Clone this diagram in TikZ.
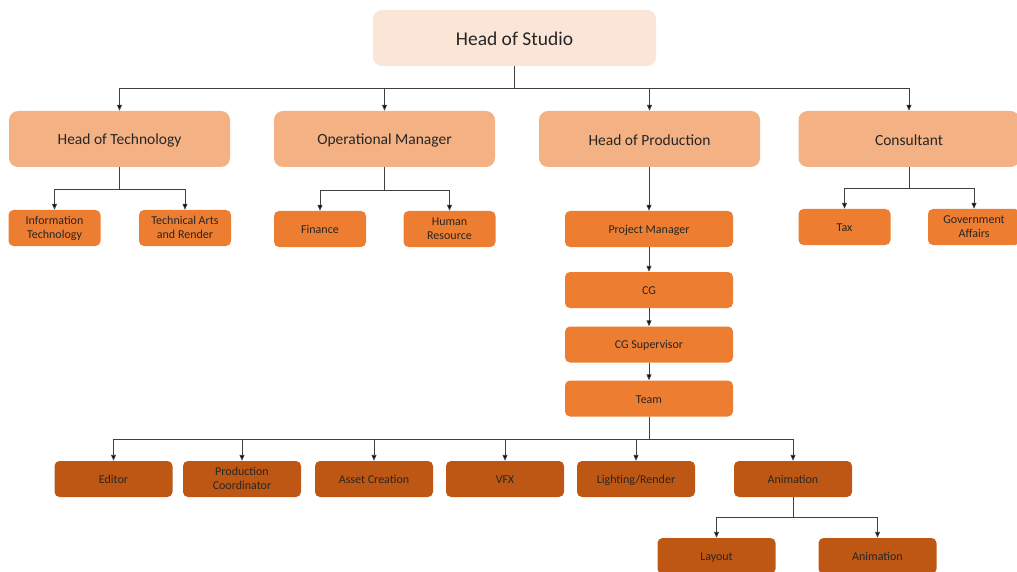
\documentclass[tikz,border=0pt]{standalone}
\usepackage{fontspec}
\setmainfont{Carlito}
\usetikzlibrary{arrows.meta,positioning}
\definecolor{studiopeach}{RGB}{251,229,214}
\definecolor{headorange}{RGB}{244,177,131}
\definecolor{unitorange}{RGB}{237,125,49}
\definecolor{crewrust}{RGB}{190,87,20}
\definecolor{labelink}{RGB}{38,38,38}
\definecolor{linkgrey}{RGB}{64,64,64}
\newcommand{\capstrut}{\rule[-0.1em]{0pt}{1.0em}}

\begin{document}
\begin{tikzpicture}[x=1pt, y=-1pt,
  box/.style={rounded corners=5pt, inner sep=0pt, align=center, text=labelink, font=\fontsize{12}{14}\selectfont,
    execute at begin node=\capstrut, execute at end node=\capstrut},
  studio/.style={box, fill=studiopeach, rounded corners=9pt, minimum width=283pt, minimum height=56pt, font=\fontsize{19.5}{23}\selectfont},
  headbox/.style={box, fill=headorange, rounded corners=9pt, minimum width=221pt, minimum height=56pt, font=\fontsize{15.5}{18}\selectfont},
  unitbox/.style={box, fill=unitorange, minimum width=92pt, minimum height=36pt},
  chainbox/.style={box, fill=unitorange, minimum width=168pt, minimum height=36pt},
  crewbox/.style={box, fill=crewrust, minimum width=118pt, minimum height=36pt},
  link/.style={draw=linkgrey, line width=0.9pt, -{Triangle[length=6pt,width=5pt,fill=black]}}]
\useasboundingbox (0,0) rectangle (1017,572);
% top
\node[studio] (studio) at (514.5,38) {Head of Studio};
% heads
\node[headbox] (tech) at (119.5,139) {Head of Technology};
\node[headbox] (ops) at (384.5,139) {Operational Manager};
\node[headbox] (prod) at (649.5,139) {Head of Production};
\node[headbox] (cons) at (909,139) {Consultant};
% units
\node[unitbox] (it) at (54.5,228) {Information\\Technology};
\node[unitbox] (arts) at (185,228) {Technical Arts\\and Render};
\node[unitbox] (fin) at (320,229) {Finance};
\node[unitbox] (hr) at (449.5,229) {Human\\Resource};
\node[unitbox] (tax) at (844.5,227) {Tax};
\node[unitbox] (gov) at (974,227) {Government\\Affairs};
% production chain
\node[chainbox] (pm) at (649,229) {Project Manager};
\node[chainbox] (cg) at (649,290) {CG};
\node[chainbox] (sup) at (649,344.5) {CG Supervisor};
\node[chainbox] (team) at (649,398.5) {Team};
% crew
\node[crewbox] (edit) at (113.5,479) {Editor};
\node[crewbox] (coord) at (242,479) {Production\\Coordinator};
\node[crewbox] (asset) at (374,479) {Asset Creation};
\node[crewbox] (vfx) at (505,479) {VFX};
\node[crewbox] (light) at (636,479) {Lighting/Render};
\node[crewbox] (anim) at (793,479) {Animation};
\node[crewbox] (layout) at (716.5,556) {Layout};
\node[crewbox] (anim2) at (877.5,556) {Animation};
% links
\foreach \n in {tech,ops,prod,cons}
  \draw[link] (studio.south) -- ++(0,22) -| (\n.north);
\foreach \n in {it,arts}
  \draw[link] (tech.south) -- ++(0,22) -| (\n.north);
\foreach \n in {fin,hr}
  \draw[link] (ops.south) -- ++(0,23) -| (\n.north);
\foreach \n in {tax,gov}
  \draw[link] (cons.south) -- ++(0,21) -| (\n.north);
\draw[link] (prod.south -| pm.north) -- (pm.north);
\draw[link] (pm) -- (cg);
\draw[link] (cg) -- (sup);
\draw[link] (sup) -- (team);
\foreach \n in {edit,coord,asset,vfx,light,anim}
  \draw[link] (team.south) -- ++(0,23) -| (\n.north);
\foreach \n in {layout,anim2}
  \draw[link] (anim.south) -- ++(0,20) -| (\n.north);
\end{tikzpicture}
\end{document}
